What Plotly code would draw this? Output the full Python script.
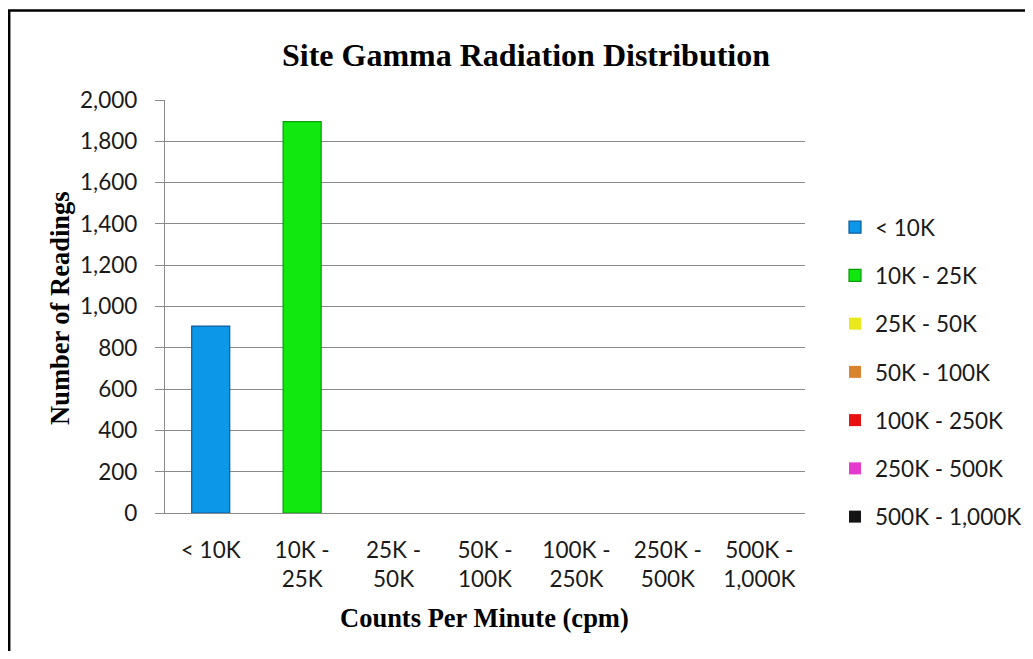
import plotly.graph_objects as go

categories = ["< 10K", "10K - 25K", "25K - 50K", "50K - 100K",
              "100K - 250K", "250K - 500K", "500K - 1,000K"]
tick_labels = ["< 10K", "10K -<br>25K", "25K -<br>50K", "50K -<br>100K",
               "100K -<br>250K", "250K -<br>500K", "500K -<br>1,000K"]
readings = [905, 1895, 0, 0, 0, 0, 0]
y_ticks = [0, 200, 400, 600, 800, 1000, 1200, 1400, 1600, 1800, 2000]

fill_colors = ["#0C97E8", "#10E810", "#E8E81A", "#D8832E",
               "#E81010", "#E43ACD", "#151515"]
edge_colors = ["#0B5C9E", "#0A9A0A", "#A0A010", "#8E5418",
               "#9A0A0A", "#9A2088", "#000000"]

# page body has an 8px margin; work in screen pixels and convert
OFF = 8
W, H = 1033 - 2 * OFF, 659 - 2 * OFF
PLOT_L, PLOT_R, PLOT_T, PLOT_B = 165, 805, 100, 513   # screen px
L = PLOT_L - OFF
R = W - (PLOT_R - OFF)
T = PLOT_T - OFF
B = H - (PLOT_B - OFF)
PW, PH = W - L - R, H - T - B


def px_x(sx):
    return (sx - OFF - L) / PW


def px_y(sy):
    return (H - B - (sy - OFF)) / PH


fig = go.Figure()
for cat, val, fc, ec in zip(categories, readings, fill_colors, edge_colors):
    fig.add_trace(go.Bar(
        x=[cat], y=[val], name=cat, legendgroup=cat,
        marker=dict(color=fc, line=dict(color=ec, width=1.2 if val else 0)),
        hoverinfo="x+y",
    ))

tick_font = dict(family="Lato, Noto Sans, sans-serif", size=22.5, color="#1a1a1a")
title_font = "Liberation Serif, Times New Roman, serif"

fig.update_layout(
    width=W, height=H,
    margin=dict(l=L, r=R, t=T, b=B, autoexpand=False),
    paper_bgcolor="white", plot_bgcolor="white",
    barmode="overlay", bargap=0.584,
    showlegend=True,
    legend=dict(
        x=px_x(835), xanchor="left",
        y=px_y(206), yanchor="top",
        font=tick_font, tracegroupgap=16,
        bgcolor="rgba(0,0,0,0)", borderwidth=0,
        itemclick=False, itemdoubleclick=False,
    ),
    xaxis=dict(
        categoryorder="array", categoryarray=categories,
        tickmode="array", tickvals=categories, ticktext=tick_labels,
        tickfont=tick_font, showgrid=False, ticks="",
        showline=True, linecolor="#8a8a8a", linewidth=1.3,
        ticklabelstandoff=17, fixedrange=True, zeroline=False,
    ),
    yaxis=dict(
        range=[0, 2000], tickmode="array", tickvals=y_ticks,
        tickformat=",d", tickfont=tick_font,
        showgrid=True, gridcolor="#8a8a8a", gridwidth=1.3,
        showline=True, linecolor="#8a8a8a", linewidth=1.3,
        ticks="outside", ticklen=9, tickcolor="#8a8a8a", tickwidth=1.3,
        ticklabelstandoff=13, zeroline=False, fixedrange=True,
    ),
    annotations=[
        dict(text="<b>Site Gamma Radiation Distribution</b>",
             xref="paper", yref="paper", x=px_x(526), y=px_y(55),
             xanchor="center", yanchor="middle", showarrow=False,
             font=dict(family=title_font, size=32, color="black")),
        dict(text="<b>Counts Per Minute (cpm)</b>",
             xref="paper", yref="paper", x=px_x(484), y=px_y(618),
             xanchor="center", yanchor="middle", showarrow=False,
             font=dict(family=title_font, size=26.5, color="black")),
        dict(text="<b>Number of Readings</b>", textangle=-90,
             xref="paper", yref="paper", x=px_x(60), y=px_y(308),
             xanchor="center", yanchor="middle", showarrow=False,
             font=dict(family=title_font, size=26.5, color="black")),
    ],
    shapes=[
        dict(type="rect", xref="paper", yref="paper",
             x0=px_x(9.2), x1=px_x(1060), y0=px_y(10.5), y1=px_y(700),
             line=dict(color="black", width=2.5), fillcolor="rgba(0,0,0,0)",
             layer="above"),
    ],
)

fig.write_html("out.html", config={"displayModeBar": False})
